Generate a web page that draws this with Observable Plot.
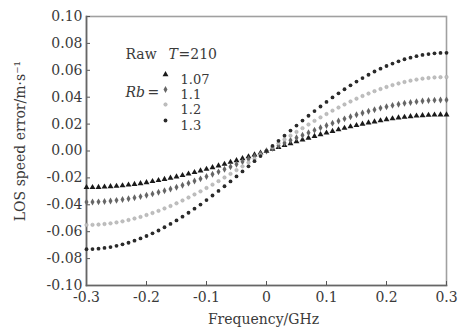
<!DOCTYPE html>
<html>
<head>
<meta charset="utf-8">
<script src="https://cdn.jsdelivr.net/npm/d3@7"></script>
<script src="https://cdn.jsdelivr.net/npm/@observablehq/plot@0.6"></script>
<style>
  html, body { margin: 0; padding: 0; background: #fff; }
  #chart svg { display: block; }
  #chart svg text { font-family: "DejaVu Serif", serif !important; }
</style>
</head>
<body>
<div id="chart"></div>
<script>
const freq = [-0.30,-0.29,-0.28,-0.27,-0.26,-0.25,-0.24,-0.23,-0.22,-0.21,-0.20,-0.19,-0.18,-0.17,-0.16,-0.15,-0.14,-0.13,-0.12,-0.11,-0.10,-0.09,-0.08,-0.07,-0.06,-0.05,-0.04,-0.03,-0.02,-0.01,0,0.01,0.02,0.03,0.04,0.05,0.06,0.07,0.08,0.09,0.10,0.11,0.12,0.13,0.14,0.15,0.16,0.17,0.18,0.19,0.20,0.21,0.22,0.23,0.24,0.25,0.26,0.27,0.28,0.29,0.30];

const rb107 = [-0.0270,-0.0270,-0.0269,-0.0267,-0.0264,-0.0261,-0.0257,-0.0252,-0.0247,-0.0241,-0.0234,-0.0226,-0.0218,-0.0210,-0.0201,-0.0191,-0.0181,-0.0170,-0.0159,-0.0147,-0.0135,-0.0123,-0.0110,-0.0097,-0.0083,-0.0070,-0.0056,-0.0042,-0.0028,-0.0014,0,0.0014,0.0028,0.0042,0.0056,0.0070,0.0083,0.0097,0.0110,0.0123,0.0135,0.0147,0.0159,0.0170,0.0181,0.0191,0.0201,0.0210,0.0218,0.0226,0.0234,0.0241,0.0247,0.0252,0.0257,0.0261,0.0264,0.0267,0.0269,0.0270,0.0270];

const rb11 = [-0.0380,-0.0379,-0.0378,-0.0375,-0.0372,-0.0367,-0.0361,-0.0355,-0.0347,-0.0339,-0.0329,-0.0319,-0.0307,-0.0295,-0.0282,-0.0269,-0.0254,-0.0239,-0.0223,-0.0207,-0.0190,-0.0173,-0.0155,-0.0136,-0.0117,-0.0098,-0.0079,-0.0059,-0.0040,-0.0020,0,0.0020,0.0040,0.0059,0.0079,0.0098,0.0117,0.0136,0.0155,0.0173,0.0190,0.0207,0.0223,0.0239,0.0254,0.0269,0.0282,0.0295,0.0307,0.0319,0.0329,0.0339,0.0347,0.0355,0.0361,0.0367,0.0372,0.0375,0.0378,0.0379,0.0380];

const rb12 = [-0.0550,-0.0549,-0.0547,-0.0543,-0.0538,-0.0531,-0.0523,-0.0513,-0.0502,-0.0490,-0.0476,-0.0461,-0.0445,-0.0427,-0.0409,-0.0389,-0.0368,-0.0346,-0.0323,-0.0300,-0.0275,-0.0250,-0.0224,-0.0197,-0.0170,-0.0142,-0.0114,-0.0086,-0.0057,-0.0029,0,0.0029,0.0057,0.0086,0.0114,0.0142,0.0170,0.0197,0.0224,0.0250,0.0275,0.0300,0.0323,0.0346,0.0368,0.0389,0.0409,0.0427,0.0445,0.0461,0.0476,0.0490,0.0502,0.0513,0.0523,0.0531,0.0538,0.0543,0.0547,0.0549,0.0550];

const rb13 = [-0.0730,-0.0729,-0.0726,-0.0721,-0.0714,-0.0705,-0.0694,-0.0682,-0.0667,-0.0650,-0.0632,-0.0612,-0.0591,-0.0567,-0.0542,-0.0516,-0.0488,-0.0459,-0.0429,-0.0398,-0.0365,-0.0331,-0.0297,-0.0262,-0.0226,-0.0189,-0.0152,-0.0114,-0.0076,-0.0038,0,0.0038,0.0076,0.0114,0.0152,0.0189,0.0226,0.0262,0.0297,0.0331,0.0365,0.0398,0.0429,0.0459,0.0488,0.0516,0.0542,0.0567,0.0591,0.0612,0.0632,0.0650,0.0667,0.0682,0.0694,0.0705,0.0714,0.0721,0.0726,0.0729,0.0730];

const seriesNames = ["1.07", "1.1", "1.2", "1.3"];
const seriesValues = [rb107, rb11, rb12, rb13];

const xTicks = [-0.3, -0.2, -0.1, 0, 0.1, 0.2, 0.3];
const xTickLabels = ["-0.3", "-0.2", "-0.1", "0", "0.1", "0.2", "0.3"];
const yTicks = [-0.10, -0.08, -0.06, -0.04, -0.02, 0.00, 0.02, 0.04, 0.06, 0.08, 0.10];
const yTickLabels = ["-0.10", "-0.08", "-0.06", "-0.04", "-0.02", "0.00", "0.02", "0.04", "0.06", "0.08", "0.10"];

const xLabel = "Frequency/GHz";
const yLabel = "LOS speed error/m·s⁻¹";

const styles = [
  {symbol: "triangle", fill: "#1a1a1a", stroke: "none", r: 2.2},
  {symbol: "diamond", fill: "#666", stroke: "none", r: 2.1},
  {symbol: "circle", fill: "#c0c0c0", stroke: "#aaa", r: 1.7},
  {symbol: "circle", fill: "#2a2a2a", stroke: "none", r: 1.9}
];

const rows = [];
seriesNames.forEach((name, s) => {
  seriesValues[s].forEach((v, i) => rows.push({series: name, f: freq[i], v}));
});

const font = "DejaVu Serif";
const ink = "#3a3a3a";

const dataMarks = seriesNames.map((name, s) =>
  Plot.dot(rows.filter(d => d.series === name), {
    x: "f", y: "v",
    symbol: styles[s].symbol, fill: styles[s].fill, stroke: styles[s].stroke,
    strokeWidth: 0.6, r: styles[s].r
  })
);

const legendRowDy = [58, 73, 88, 104];
const legendMarks = seriesNames.flatMap((name, s) => [
  Plot.dot([name], {frameAnchor: "top-left", dx: 79, dy: legendRowDy[s],
    symbol: styles[s].symbol, fill: styles[s].fill, stroke: styles[s].stroke, strokeWidth: 0.6, r: styles[s].r}),
  Plot.text([name], {frameAnchor: "top-left", dx: 94, dy: legendRowDy[s], text: d => d,
    textAnchor: "start", fontSize: 13, fill: ink, fontFamily: font})
]);

const chart = Plot.plot({
  width: 460,
  height: 336,
  marginLeft: 86,
  marginRight: 14,
  marginTop: 16,
  marginBottom: 51,
  style: {fontFamily: font, background: "#fff", color: ink},
  x: {domain: [-0.3, 0.3], label: null},
  y: {domain: [-0.1, 0.1], label: null},
  marks: [
    Plot.frame({stroke: "#a0a0a0", strokeWidth: 1.6}),
    Plot.axisX(xTicks, {tickSize: -4, tickPadding: 11, stroke: "#555",
      tickFormat: (d, i) => xTickLabels[i], fontSize: 14, fill: ink, fontFamily: font, label: null}),
    Plot.axisY(yTicks, {tickSize: -4, tickPadding: 8, stroke: "#555",
      tickFormat: (d, i) => yTickLabels[i], fontSize: 14, fill: ink, fontFamily: font, label: null}),
    Plot.frame({anchor: "left", stroke: "#666", strokeWidth: 1.6}),
    Plot.frame({anchor: "bottom", stroke: "#666", strokeWidth: 1.6}),
    ...dataMarks,
    Plot.text([xLabel], {frameAnchor: "bottom", dx: -3, dy: 38, text: d => d, fontSize: 14, fill: ink, fontFamily: font}),
    Plot.text([yLabel], {frameAnchor: "left", dx: -66, dy: -10, rotate: -90, textAnchor: "middle", lineAnchor: "middle", text: d => d, fontSize: 14, fill: ink, fontFamily: font}),
    Plot.text(["Raw"], {frameAnchor: "top-left", dx: 39, dy: 33, text: d => d, textAnchor: "start", fontSize: 14, fill: ink, fontFamily: font}),
    Plot.text(["T"], {frameAnchor: "top-left", dx: 82, dy: 33, text: d => d, textAnchor: "start", fontSize: 14, fontStyle: "italic", fill: ink, fontFamily: font}),
    Plot.text(["=210"], {frameAnchor: "top-left", dx: 92, dy: 33, text: d => d, textAnchor: "start", fontSize: 14, fill: ink, fontFamily: font}),
    Plot.text(["Rb"], {frameAnchor: "top-left", dx: 39, dy: 71, text: d => d, textAnchor: "start", fontSize: 14, fontStyle: "italic", fill: ink, fontFamily: font}),
    Plot.text(["="], {frameAnchor: "top-left", dx: 61, dy: 71, text: d => d, textAnchor: "start", fontSize: 14, fill: ink, fontFamily: font}),
    ...legendMarks
  ]
});

document.getElementById("chart").appendChild(chart);
</script>
</body>
</html>
